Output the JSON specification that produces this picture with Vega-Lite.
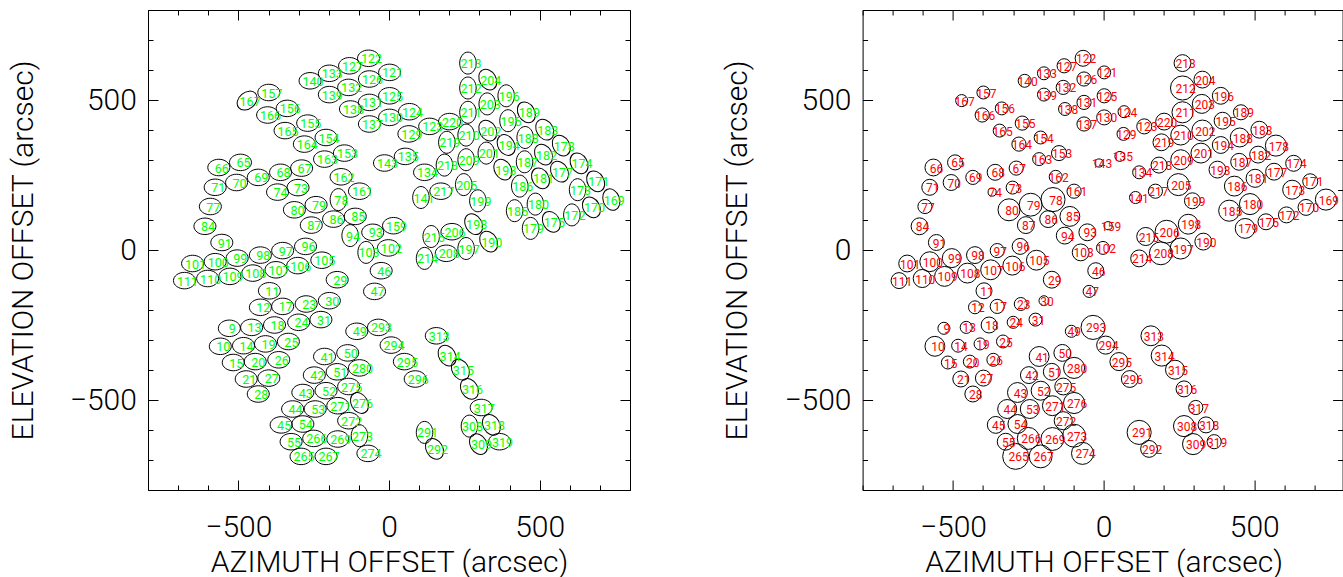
{
  "$schema": "https://vega.github.io/schema/vega-lite/v6.json",
  "background": "white",
  "padding": {"left": 7, "top": 9, "right": 0, "bottom": 0},
  "bounds": "flush",
  "spacing": 232.6,
  "config": {
    "view": {"stroke": "black", "strokeWidth": 1},
    "axis": {"grid": false, "domain": false, "tickColor": "black", "tickWidth": 1, "labelColor": "black", "titleColor": "black", "labelFont": "Roboto", "titleFont": "Roboto", "labelFontWeight": 300, "titleFontWeight": 300, "titleFontSize": 30, "labelOverlap": false, "labelFlush": false,
      "labelFontSize": {"condition": {"test": "datum.value % 500 === 0", "value": 30}, "value": 0}}
  },
  "datasets": {
    "beams": [
      {"id":"140","az":-262,"el":564,"pa":0,"fwhm":43},{"id":"157","az":-399,"el":525,"pa":0,"fwhm":43},{"id":"167","az":-471,"el":498,"pa":-40,"fwhm":40},{"id":"166","az":-403,"el":450,"pa":0,"fwhm":47},
      {"id":"156","az":-338,"el":472,"pa":0,"fwhm":43},{"id":"155","az":-270,"el":423,"pa":0,"fwhm":47},{"id":"165","az":-345,"el":398,"pa":0,"fwhm":43},{"id":"164","az":-281,"el":353,"pa":0,"fwhm":47},
      {"id":"154","az":-209,"el":375,"pa":0,"fwhm":43},{"id":"163","az":-214,"el":303,"pa":0,"fwhm":43},{"id":"66","az":-565,"el":275,"pa":0,"fwhm":56},{"id":"65","az":-493,"el":292,"pa":0,"fwhm":50},
      {"id":"71","az":-577,"el":209,"pa":0,"fwhm":53},{"id":"70","az":-506,"el":225,"pa":0,"fwhm":53},{"id":"69","az":-434,"el":242,"pa":0,"fwhm":47},{"id":"68","az":-360,"el":259,"pa":0,"fwhm":53},
      {"id":"67","az":-290,"el":273,"pa":0,"fwhm":47},{"id":"74","az":-370,"el":193,"pa":0,"fwhm":27},{"id":"73","az":-302,"el":208,"pa":0,"fwhm":43},{"id":"122","az":-68,"el":639,"pa":0,"fwhm":53},
      {"id":"127","az":-131,"el":614,"pa":0,"fwhm":47},{"id":"121","az":2,"el":592,"pa":0,"fwhm":43},{"id":"133","az":-198,"el":589,"pa":0,"fwhm":43},{"id":"126","az":-65,"el":570,"pa":0,"fwhm":47},
      {"id":"132","az":-134,"el":542,"pa":0,"fwhm":47},{"id":"139","az":-198,"el":518,"pa":0,"fwhm":43},{"id":"125","az":2,"el":514,"pa":0,"fwhm":47},{"id":"131","az":-65,"el":492,"pa":0,"fwhm":47},
      {"id":"138","az":-128,"el":470,"pa":0,"fwhm":43},{"id":"124","az":68,"el":461,"pa":0,"fwhm":40},{"id":"130","az":2,"el":442,"pa":0,"fwhm":50},{"id":"137","az":-65,"el":420,"pa":0,"fwhm":47},
      {"id":"123","az":135,"el":412,"pa":0,"fwhm":50},{"id":"129","az":66,"el":387,"pa":0,"fwhm":43},{"id":"220","az":201,"el":428,"pa":0,"fwhm":56},{"id":"219","az":192,"el":359,"pa":90,"fwhm":56},
      {"id":"153","az":-148,"el":323,"pa":0,"fwhm":50},{"id":"143","az":-15,"el":290,"pa":0,"fwhm":27},{"id":"135","az":54,"el":312,"pa":0,"fwhm":33},{"id":"134","az":118,"el":259,"pa":0,"fwhm":43},
      {"id":"218","az":184,"el":283,"pa":90,"fwhm":53},{"id":"162","az":-159,"el":244,"pa":0,"fwhm":43},{"id":"161","az":-98,"el":196,"pa":0,"fwhm":47},{"id":"217","az":172,"el":196,"pa":0,"fwhm":47},
      {"id":"141","az":106,"el":175,"pa":90,"fwhm":40},{"id":"213","az":262,"el":623,"pa":90,"fwhm":56},{"id":"204","az":328,"el":568,"pa":60,"fwhm":56},{"id":"212","az":262,"el":540,"pa":90,"fwhm":80},
      {"id":"196","az":389,"el":514,"pa":90,"fwhm":56},{"id":"203","az":326,"el":487,"pa":90,"fwhm":63},{"id":"211","az":262,"el":459,"pa":90,"fwhm":70},{"id":"189","az":456,"el":459,"pa":60,"fwhm":50},
      {"id":"195","az":395,"el":431,"pa":90,"fwhm":56},{"id":"183","az":517,"el":401,"pa":60,"fwhm":56},{"id":"202","az":328,"el":398,"pa":60,"fwhm":70},{"id":"210","az":256,"el":383,"pa":90,"fwhm":66},
      {"id":"188","az":452,"el":375,"pa":90,"fwhm":63},{"id":"178","az":572,"el":348,"pa":60,"fwhm":70},{"id":"194","az":389,"el":350,"pa":60,"fwhm":56},{"id":"201","az":323,"el":323,"pa":90,"fwhm":66},
      {"id":"182","az":513,"el":318,"pa":60,"fwhm":56},{"id":"209","az":256,"el":301,"pa":90,"fwhm":66},{"id":"174","az":631,"el":289,"pa":60,"fwhm":53},{"id":"187","az":450,"el":294,"pa":90,"fwhm":56},
      {"id":"193","az":378,"el":268,"pa":60,"fwhm":56},{"id":"177","az":566,"el":261,"pa":60,"fwhm":56},{"id":"181","az":503,"el":239,"pa":60,"fwhm":60},{"id":"171","az":686,"el":229,"pa":60,"fwhm":50},
      {"id":"186","az":434,"el":213,"pa":90,"fwhm":66},{"id":"205","az":248,"el":218,"pa":90,"fwhm":73},{"id":"173","az":626,"el":201,"pa":90,"fwhm":63},{"id":"169","az":738,"el":168,"pa":70,"fwhm":70},
      {"id":"199","az":295,"el":164,"pa":90,"fwhm":53},{"id":"185","az":417,"el":131,"pa":90,"fwhm":70},{"id":"180","az":486,"el":153,"pa":90,"fwhm":70},{"id":"170","az":672,"el":142,"pa":60,"fwhm":53},
      {"id":"172","az":607,"el":117,"pa":90,"fwhm":53},{"id":"175","az":539,"el":94,"pa":60,"fwhm":53},{"id":"179","az":470,"el":72,"pa":90,"fwhm":66},{"id":"198","az":281,"el":86,"pa":60,"fwhm":66},
      {"id":"190","az":331,"el":28,"pa":60,"fwhm":56},{"id":"197","az":256,"el":5,"pa":90,"fwhm":70},{"id":"78","az":-168,"el":168,"pa":90,"fwhm":80},{"id":"79","az":-242,"el":151,"pa":0,"fwhm":76},
      {"id":"86","az":-184,"el":103,"pa":0,"fwhm":56},{"id":"85","az":-112,"el":112,"pa":0,"fwhm":66},{"id":"87","az":-258,"el":83,"pa":0,"fwhm":56},{"id":"94","az":-129,"el":48,"pa":90,"fwhm":56},
      {"id":"93","az":-54,"el":59,"pa":0,"fwhm":56},{"id":"159","az":15,"el":81,"pa":0,"fwhm":27},{"id":"215","az":140,"el":45,"pa":90,"fwhm":60},{"id":"206","az":209,"el":61,"pa":0,"fwhm":76},
      {"id":"103","az":-76,"el":-8,"pa":90,"fwhm":56},{"id":"102","az":-2,"el":7,"pa":0,"fwhm":43},{"id":"214","az":118,"el":-28,"pa":90,"fwhm":56},{"id":"208","az":190,"el":-11,"pa":0,"fwhm":76},
      {"id":"105","az":-223,"el":-34,"pa":0,"fwhm":66},{"id":"46","az":-26,"el":-69,"pa":0,"fwhm":53},{"id":"29","az":-172,"el":-99,"pa":0,"fwhm":56},{"id":"47","az":-48,"el":-138,"pa":0,"fwhm":40},
      {"id":"30","az":-198,"el":-169,"pa":0,"fwhm":33},{"id":"31","az":-226,"el":-232,"pa":0,"fwhm":43},{"id":"49","az":-107,"el":-271,"pa":0,"fwhm":40},{"id":"293","az":-35,"el":-258,"pa":0,"fwhm":80},
      {"id":"313","az":157,"el":-286,"pa":0,"fwhm":66},{"id":"294","az":7,"el":-317,"pa":0,"fwhm":60},{"id":"77","az":-593,"el":145,"pa":0,"fwhm":47},{"id":"80","az":-314,"el":134,"pa":0,"fwhm":73},
      {"id":"84","az":-611,"el":79,"pa":0,"fwhm":56},{"id":"91","az":-555,"el":25,"pa":0,"fwhm":53},{"id":"97","az":-353,"el":-2,"pa":0,"fwhm":47},{"id":"96","az":-277,"el":12,"pa":0,"fwhm":53},
      {"id":"101","az":-652,"el":-45,"pa":0,"fwhm":56},{"id":"100","az":-577,"el":-39,"pa":0,"fwhm":66},{"id":"99","az":-504,"el":-27,"pa":0,"fwhm":63},{"id":"98","az":-427,"el":-17,"pa":0,"fwhm":56},
      {"id":"108","az":-452,"el":-77,"pa":0,"fwhm":66},{"id":"107","az":-375,"el":-66,"pa":0,"fwhm":66},{"id":"106","az":-303,"el":-52,"pa":0,"fwhm":63},{"id":"111","az":-679,"el":-102,"pa":0,"fwhm":53},
      {"id":"110","az":-602,"el":-95,"pa":0,"fwhm":60},{"id":"109","az":-528,"el":-88,"pa":0,"fwhm":66},{"id":"11","az":-397,"el":-136,"pa":0,"fwhm":53},{"id":"12","az":-427,"el":-191,"pa":0,"fwhm":43},
      {"id":"17","az":-353,"el":-188,"pa":0,"fwhm":47},{"id":"23","az":-275,"el":-180,"pa":0,"fwhm":43},{"id":"9","az":-530,"el":-261,"pa":0,"fwhm":40},{"id":"13","az":-456,"el":-258,"pa":0,"fwhm":40},
      {"id":"18","az":-380,"el":-250,"pa":0,"fwhm":53},{"id":"24","az":-300,"el":-241,"pa":0,"fwhm":40},{"id":"10","az":-560,"el":-321,"pa":0,"fwhm":66},{"id":"14","az":-483,"el":-319,"pa":0,"fwhm":43},
      {"id":"19","az":-410,"el":-313,"pa":0,"fwhm":40},{"id":"25","az":-334,"el":-305,"pa":0,"fwhm":43},{"id":"15","az":-517,"el":-375,"pa":0,"fwhm":43},{"id":"20","az":-444,"el":-372,"pa":0,"fwhm":43},
      {"id":"26","az":-366,"el":-366,"pa":0,"fwhm":43},{"id":"21","az":-474,"el":-430,"pa":0,"fwhm":53},{"id":"27","az":-399,"el":-427,"pa":0,"fwhm":53},{"id":"28","az":-434,"el":-480,"pa":0,"fwhm":53},
      {"id":"42","az":-248,"el":-417,"pa":0,"fwhm":56},{"id":"41","az":-214,"el":-355,"pa":0,"fwhm":66},{"id":"43","az":-286,"el":-475,"pa":0,"fwhm":66},{"id":"52","az":-209,"el":-469,"pa":0,"fwhm":63},
      {"id":"44","az":-320,"el":-530,"pa":0,"fwhm":63},{"id":"53","az":-245,"el":-530,"pa":0,"fwhm":63},{"id":"45","az":-358,"el":-583,"pa":0,"fwhm":56},{"id":"54","az":-286,"el":-580,"pa":0,"fwhm":63},
      {"id":"55","az":-325,"el":-639,"pa":0,"fwhm":56},{"id":"266","az":-250,"el":-628,"pa":0,"fwhm":73},{"id":"265","az":-292,"el":-688,"pa":0,"fwhm":86},{"id":"267","az":-209,"el":-688,"pa":0,"fwhm":76},
      {"id":"50","az":-137,"el":-343,"pa":0,"fwhm":56},{"id":"295","az":51,"el":-372,"pa":0,"fwhm":60},{"id":"314","az":193,"el":-352,"pa":60,"fwhm":70},{"id":"51","az":-172,"el":-406,"pa":0,"fwhm":56},
      {"id":"280","az":-98,"el":-393,"pa":0,"fwhm":70},{"id":"315","az":237,"el":-399,"pa":60,"fwhm":63},{"id":"296","az":87,"el":-430,"pa":0,"fwhm":56},{"id":"275","az":-134,"el":-455,"pa":0,"fwhm":56},
      {"id":"316","az":267,"el":-463,"pa":60,"fwhm":53},{"id":"271","az":-170,"el":-519,"pa":0,"fwhm":66},{"id":"276","az":-98,"el":-510,"pa":60,"fwhm":70},{"id":"317","az":306,"el":-525,"pa":0,"fwhm":47},
      {"id":"272","az":-134,"el":-569,"pa":0,"fwhm":60},{"id":"291","az":118,"el":-608,"pa":90,"fwhm":80},{"id":"308","az":267,"el":-587,"pa":90,"fwhm":70},{"id":"269","az":-170,"el":-630,"pa":0,"fwhm":76},
      {"id":"273","az":-98,"el":-619,"pa":90,"fwhm":76},{"id":"292","az":151,"el":-663,"pa":60,"fwhm":56},{"id":"274","az":-70,"el":-678,"pa":0,"fwhm":73},{"id":"318","az":340,"el":-583,"pa":60,"fwhm":53},
      {"id":"309","az":297,"el":-647,"pa":60,"fwhm":70},{"id":"319","az":367,"el":-639,"pa":0,"fwhm":47}
    ]
  },
  "hconcat": [
    {
      "width": 482, "height": 480,
      "data": {"name": "beams"},
      "layer": [
        {
          "mark": {"type": "point", "shape": "M-1,0A1,0.75,0,1,1,1,0A1,0.75,0,1,1,-1,0Z", "size": 484, "filled": false, "stroke": "black", "strokeWidth": 1, "opacity": 1},
          "encoding": {
            "x": {"field": "az", "type": "quantitative", "scale": {"domain": [-800, 800], "nice": false, "zero": false},
              "axis": {"orient": "bottom", "values": [-800,-700,-600,-500,-400,-300,-200,-100,0,100,200,300,400,500,600,700,800],
                "tickSize": {"condition": {"test": "datum.value % 500 === 0", "value": -10}, "value": -5},
                "labelExpr": "datum.value % 500 === 0 ? (datum.value < 0 ? '\u2212' + abs(datum.value) : '' + datum.value) : ''",
                "labelPadding": 32.5, "labelBaseline": "top", "title": "AZIMUTH OFFSET (arcsec)", "titleY": 81, "titleBaseline": "alphabetic"}},
            "y": {"field": "el", "type": "quantitative", "scale": {"domain": [-800, 800], "nice": false, "zero": false},
              "axis": {"orient": "left", "values": [-800,-700,-600,-500,-400,-300,-200,-100,0,100,200,300,400,500,600,700,800],
                "tickSize": {"condition": {"test": "datum.value % 500 === 0", "value": -10}, "value": -5},
                "labelExpr": "datum.value % 500 === 0 ? (datum.value < 0 ? '\u2212' + abs(datum.value) : '' + datum.value) : ''",
                "labelPadding": 21.6, "title": "ELEVATION OFFSET (arcsec)", "titleX": -116, "titleBaseline": "alphabetic", "titleAngle": -90}},
            "angle": {"field": "pa", "type": "quantitative", "scale": null}
          }
        },
        {
          "mark": {"type": "text", "color": "#00ff00", "font": "Roboto", "fontSize": 12.5, "fontWeight": 400, "dx": 3, "dy": 1, "align": "center", "baseline": "middle"},
          "encoding": {
            "x": {"field": "az", "type": "quantitative", "scale": {"domain": [-800, 800], "nice": false, "zero": false},
              "axis": {"orient": "top", "values": [-800,-700,-600,-500,-400,-300,-200,-100,0,100,200,300,400,500,600,700,800],
                "tickSize": {"condition": {"test": "datum.value % 500 === 0", "value": -10}, "value": -5}, "labels": false, "title": null}},
            "y": {"field": "el", "type": "quantitative", "scale": {"domain": [-800, 800], "nice": false, "zero": false},
              "axis": {"orient": "right", "values": [-800,-700,-600,-500,-400,-300,-200,-100,0,100,200,300,400,500,600,700,800],
                "tickSize": {"condition": {"test": "datum.value % 500 === 0", "value": -10}, "value": -5}, "labels": false, "title": null}},
            "text": {"field": "id"}
          }
        }
      ],
      "resolve": {"axis": {"x": "independent", "y": "independent"}}
    },
    {
      "width": 480, "height": 480,
      "data": {"name": "beams"},
      "layer": [
        {
          "mark": {"type": "point", "shape": "circle", "filled": false, "stroke": "black", "strokeWidth": 1, "opacity": 1},
          "encoding": {
            "x": {"field": "az", "type": "quantitative", "scale": {"domain": [-800, 793.4], "nice": false, "zero": false},
              "axis": {"orient": "bottom", "values": [-800,-700,-600,-500,-400,-300,-200,-100,0,100,200,300,400,500,600,700],
                "tickSize": {"condition": {"test": "datum.value % 500 === 0", "value": -10}, "value": -5},
                "labelExpr": "datum.value % 500 === 0 ? (datum.value < 0 ? '\u2212' + abs(datum.value) : '' + datum.value) : ''",
                "labelPadding": 32.5, "labelBaseline": "top", "title": "AZIMUTH OFFSET (arcsec)", "titleX": 241, "titleY": 81, "titleBaseline": "alphabetic"}},
            "y": {"field": "el", "type": "quantitative", "scale": {"domain": [-800, 800], "nice": false, "zero": false},
              "axis": {"orient": "left", "values": [-800,-700,-600,-500,-400,-300,-200,-100,0,100,200,300,400,500,600,700,800],
                "tickSize": {"condition": {"test": "datum.value % 500 === 0", "value": -10}, "value": -5},
                "labelExpr": "datum.value % 500 === 0 ? (datum.value < 0 ? '\u2212' + abs(datum.value) : '' + datum.value) : ''",
                "labelPadding": 21.6, "title": "ELEVATION OFFSET (arcsec)", "titleX": -116, "titleBaseline": "alphabetic", "titleAngle": -90}},
            "size": {"field": "fwhm", "type": "quantitative", "scale": {"type": "pow", "exponent": 2, "domain": [0, 100], "range": [0, 907.5]}, "legend": null}
          }
        },
        {
          "mark": {"type": "text", "color": "#ff0000", "font": "Roboto", "fontSize": 12, "fontWeight": 400, "dx": 3, "dy": 1, "align": "center", "baseline": "middle"},
          "encoding": {
            "x": {"field": "az", "type": "quantitative", "scale": {"domain": [-800, 793.4], "nice": false, "zero": false},
              "axis": {"orient": "top", "values": [-800,-700,-600,-500,-400,-300,-200,-100,0,100,200,300,400,500,600,700],
                "tickSize": {"condition": {"test": "datum.value % 500 === 0", "value": -10}, "value": -5}, "labels": false, "title": null}},
            "y": {"field": "el", "type": "quantitative", "scale": {"domain": [-800, 800], "nice": false, "zero": false},
              "axis": {"orient": "right", "values": [-800,-700,-600,-500,-400,-300,-200,-100,0,100,200,300,400,500,600,700,800],
                "tickSize": {"condition": {"test": "datum.value % 500 === 0", "value": -10}, "value": -5}, "labels": false, "title": null}},
            "text": {"field": "id"}
          }
        }
      ],
      "resolve": {"axis": {"x": "independent", "y": "independent"}}
    }
  ]
}
